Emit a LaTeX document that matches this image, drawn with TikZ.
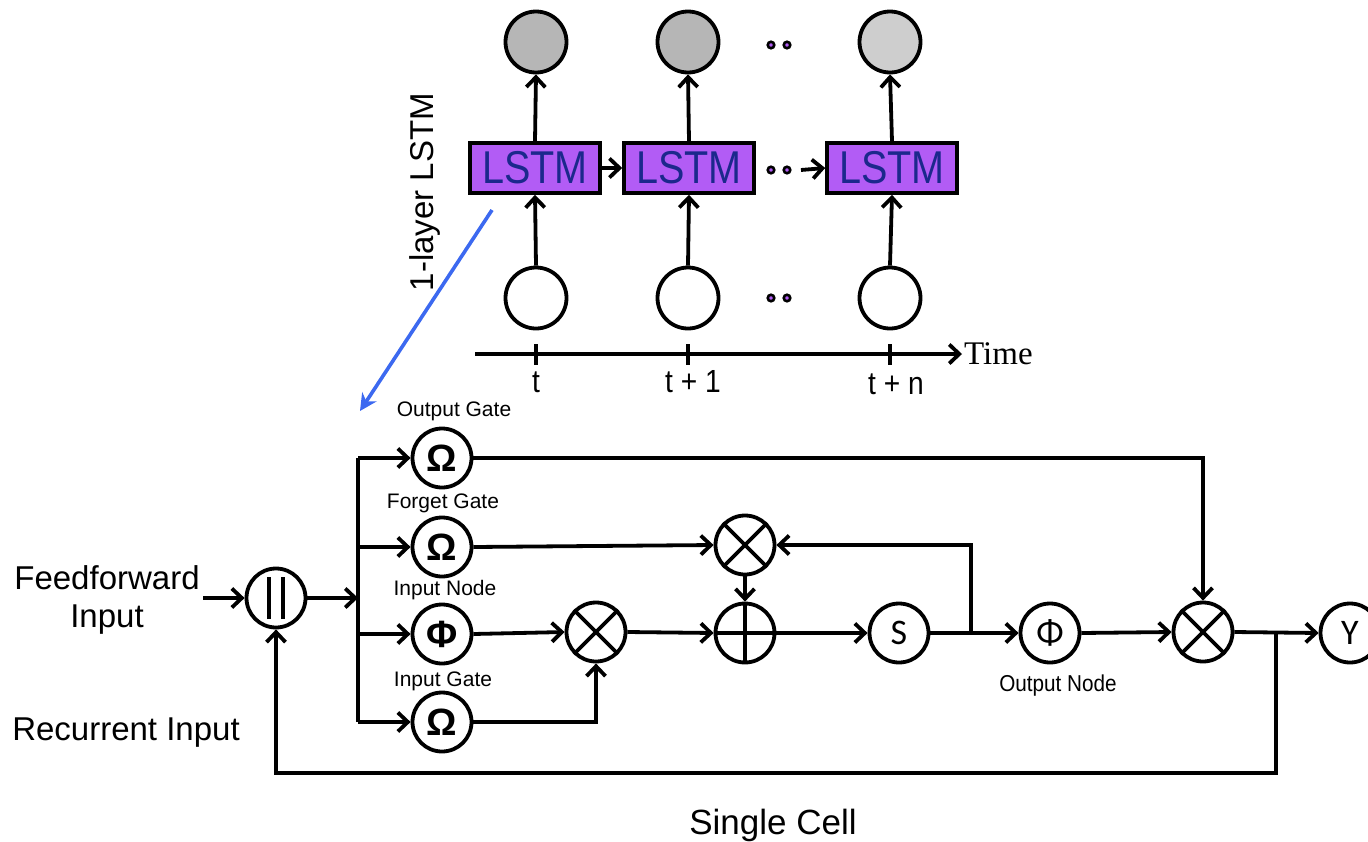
\documentclass[tikz,border=0pt]{standalone}
\usepackage{fontspec}
\setmainfont{Liberation Sans}
\newfontfamily\timesf{Liberation Serif}
\newfontfamily\carl{Carlito}
\usetikzlibrary{arrows.meta}
\definecolor{lpurple}{RGB}{178,92,245}
\definecolor{lnavy}{RGB}{28,40,140}
\definecolor{grayA}{RGB}{182,182,182}
\definecolor{grayB}{RGB}{206,206,206}
\definecolor{blueA}{RGB}{60,105,240}
\begin{document}
\begin{tikzpicture}[x=1pt,y=-1pt,
  ln/.style={line width=3.8pt},
  arr/.style={ln,-{Straight Barb[length=10pt,width=19pt]}},
  unit/.style={circle,draw,line width=3.8pt,minimum size=59pt,inner sep=0pt},
  gate/.style={unit,font=\fontsize{38}{38}\selectfont\bfseries},
  sym/.style={unit,font=\carl\fontsize{36}{36}\selectfont},
  tcirc/.style={unit,minimum size=61pt},
  lstm/.style={draw,line width=3.6pt,fill=lpurple,text=lnavy,minimum width=130pt,minimum height=50pt,inner sep=0pt,font=\fontsize{46}{46}\selectfont},
  lab/.style={font=\fontsize{21}{21}\selectfont},
  big/.style={font=\fontsize{33}{38}\selectfont},
  tlab/.style={font=\fontsize{32}{32}\selectfont},
  pdot/.style={circle,draw,fill=lpurple,line width=2.6pt,minimum size=6.5pt,inner sep=0pt}
]
\useasboundingbox (0,0) rectangle (1368,841);

% ---------- top: unrolled LSTM ----------
\node[tcirc,fill=grayA] (h1) at (536,42) {};
\node[tcirc,fill=grayA] (h2) at (688,42) {};
\node[tcirc,fill=grayB] (h3) at (890,42) {};
\node[lstm] (L1) at (535,168) {\scalebox{0.86}[1]{LSTM}};
\node[lstm] (L2) at (689,168) {\scalebox{0.86}[1]{LSTM}};
\node[lstm] (L3) at (892,168) {\scalebox{0.86}[1]{LSTM}};
\node[tcirc] (x1) at (536,298) {};
\node[tcirc] (x2) at (688,298) {};
\node[tcirc] (x3) at (890,298) {};

\node[pdot] (da1) at (771,45) {};
\node[pdot] (da2) at (787,45) {};
\node[pdot] (db1) at (771,170) {};
\node[pdot] (db2) at (787,170) {};
\node[pdot] (dc1) at (771,298) {};
\node[pdot] (dc2) at (787,298) {};

\foreach \i in {1,2,3}{
  \draw[arr] (x\i.north) -- (L\i.south);
  \draw[arr] (L\i.north) -- (h\i.south);
}
\draw[arr] (L1.east) -- (L2.west);
\coordinate (dtail) at (801,170);
\draw[arr] (dtail) -- (L3.west);

% time axis
\coordinate (ax0) at (475,354);
\node[font=\timesf\fontsize{33}{33}\selectfont,anchor=west,inner sep=2pt] (time) at (962,354) {Time};
\draw[arr] (ax0) -- (time.west);
\foreach \x/\n in {536/a,688/b,890/c}{
  \coordinate (tk\n t) at (\x,344);
  \coordinate (tk\n b) at (\x,365);
  \draw[ln] (tk\n t) -- (tk\n b);
}
\node[tlab] (t0) at (536,382) {\scalebox{0.88}[1]{t}};
\node[tlab] (t1) at (693,382) {\scalebox{0.88}[1]{t + 1}};
\node[tlab] (tn) at (896,384) {\scalebox{0.88}[1]{t + n}};

\node[big,rotate=90] (layer) at (425,192) {1-layer LSTM};
\coordinate (bs) at (492,210);
\coordinate (be) at (360,411);
\draw[line width=3.6pt,blueA,-{Stealth[length=17pt,width=17pt]}] (bs) -- (be);

% ---------- bottom: single cell ----------
\node[big,align=center] (ffin) at (107,600) {Feedforward\\Input};
\node[big] (rin) at (126,733) {Recurrent Input};
\node[font=\fontsize{35}{35}\selectfont] (sc) at (773,825) {Single Cell};

\node[unit] (cat) at (276,598) {};
\draw[ln] ([xshift=-7pt,yshift=-21pt]cat.center) -- ([xshift=-7pt,yshift=21pt]cat.center);
\draw[ln] ([xshift=7pt,yshift=-21pt]cat.center) -- ([xshift=7pt,yshift=21pt]cat.center);

\node[gate] (og) at (442,458) {Ω};
\node[gate] (fg) at (442,547) {Ω};
\node[gate] (in) at (442,634) {Φ};
\node[gate] (ig) at (442,722) {Ω};
\node[lab] (ogl) at (454,411) {Output Gate};
\node[lab] (fgl) at (443,503) {Forget Gate};
\node[lab] (inl) at (445,590) {Input Node};
\node[lab] (igl) at (443,681) {Input Gate};

\node[unit] (im) at (596,632) {};
\node[unit] (fm) at (745,545) {};
\node[unit] (pl) at (745,633) {};
\node[sym] (S) at (899,633) {S};
\node[sym] (on) at (1050,633) {Φ};
\node[unit] (om) at (1203,632) {};
\node[sym] (Y) at (1350,633) {Y};
\node[font=\fontsize{23}{23}\selectfont] (onl) at (1058,686) {\scalebox{0.9}[1]{Output Node}};

\foreach \m in {im,fm,om}{
  \draw[ln] (\m.north east) -- (\m.south west);
  \draw[ln] (\m.north west) -- (\m.south east);
}
\draw[ln] (pl.north) -- (pl.south);
\draw[ln] (pl.west) -- (pl.east);

% connectors
\draw[arr] (ffin.east |- cat.west) -- (cat.west);
\coordinate (bus) at (358,598);
\coordinate (bt) at (358,458);
\coordinate (bb) at (358,722);
\draw[arr] (cat.east) -- (bus);
\draw[ln] (bt) -- (bb);
\draw[arr] (bt) -- (og.west);
\draw[arr] (bus |- fg) -- (fg.west);
\draw[arr] (bus |- in) -- (in.west);
\draw[arr] (bb) -- (ig.west);

\draw[arr] (og.east) -| (om.north);
\draw[arr] (fg.east) -- (fm.west);
\draw[arr] (in.east) -- (im.west);
\draw[arr] (ig.east) -| (im.south);
\draw[arr] (im.east) -- (pl.west);
\draw[arr] (fm.south) -- (pl.north);
\draw[arr] (pl.east) -- (S.west);
\draw[arr] (S.east) -- (on.west);
\coordinate (j1) at (971,633);
\draw[arr] (j1) |- (fm.east);
\draw[arr] (on.east) -- (om.west);
\draw[arr] (om.east) -- (Y.west);
\coordinate (j2) at (1276,633);
\coordinate (rb) at (1276,773);
\draw[arr] (j2) -- (rb) -| (cat.south);
\end{tikzpicture}
\end{document}
